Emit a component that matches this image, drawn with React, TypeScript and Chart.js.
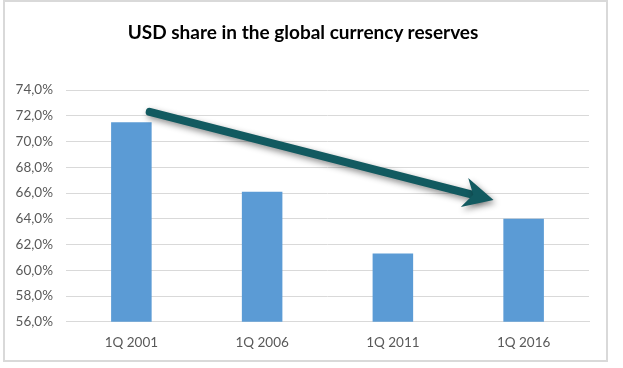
import React, { useEffect, useRef } from "react";
import { Chart, registerables } from "chart.js";

Chart.register(...registerables);

const TITLE = "USD share in the global currency reserves";
const categories = ["1Q 2001", "1Q 2006", "1Q 2011", "1Q 2016"];
const usdShare = [71.5, 66.1, 61.3, 64.0];
const yMin = 56;
const yMax = 74;
const yStep = 2;
// trend arrow in data space: [categoryIndex, value]
const arrowStart = [0.14, 72.3];
const arrowEnd = [2.77, 65.46];

const FONT = "Lato, 'Open Sans', sans-serif";

const arrowPlugin = {
  id: "trendArrow",
  afterDatasetsDraw(chart: any) {
    const { ctx, scales } = chart;
    const x0 = scales.x.getPixelForValue(arrowStart[0]);
    const y0 = scales.y.getPixelForValue(arrowStart[1]);
    const x1 = scales.x.getPixelForValue(arrowEnd[0]);
    const y1 = scales.y.getPixelForValue(arrowEnd[1]);
    const dx = x1 - x0, dy = y1 - y0;
    const len = Math.hypot(dx, dy);
    const ux = dx / len, uy = dy / len;
    const nx = -uy, ny = ux;
    const L = 30, W = 15;
    ctx.save();
    ctx.shadowColor = "rgba(0,0,0,0.45)";
    ctx.shadowBlur = 6;
    ctx.shadowOffsetX = 2;
    ctx.shadowOffsetY = 3;
    ctx.strokeStyle = "#125A60";
    ctx.fillStyle = "#125A60";
    ctx.lineWidth = 8;
    ctx.lineCap = "round";
    ctx.beginPath();
    ctx.moveTo(x0, y0);
    ctx.lineTo(x1 - ux * L * 0.6, y1 - uy * L * 0.6);
    ctx.stroke();
    ctx.beginPath();
    ctx.moveTo(x1, y1);
    ctx.lineTo(x1 - ux * L - nx * W, y1 - uy * L - ny * W);
    ctx.lineTo(x1 - ux * L * 0.7, y1 - uy * L * 0.7);
    ctx.lineTo(x1 - ux * L + nx * W, y1 - uy * L + ny * W);
    ctx.closePath();
    ctx.fill();
    ctx.restore();
  },
};

export default function App() {
  const ref = useRef<HTMLCanvasElement>(null);
  useEffect(() => {
    if (!ref.current) return;
    const chart = new Chart(ref.current, {
      type: "bar",
      data: {
        labels: categories,
        datasets: [
          {
            label: "USD share",
            data: usdShare,
            backgroundColor: "#5B9BD5",
            borderWidth: 0,
            barPercentage: 0.31,
            categoryPercentage: 1,
          },
        ],
      },
      options: {
        responsive: false,
        animation: false,
        layout: { padding: { left: 0, right: 34, top: 90, bottom: 4 } },
        plugins: {
          legend: { display: false },
          tooltip: { enabled: false },
          title: { display: false },
        },
        scales: {
          x: {
            grid: { display: false, drawTicks: false },
            border: { display: true, color: "#D9D9D9" },
            ticks: { color: "#595959", font: { family: FONT, size: 13.5 }, padding: 13 },
          },
          y: {
            min: yMin,
            max: yMax,
            afterFit: (s: any) => { s.width = 66; },
            grid: { color: "#D9D9D9", drawTicks: false },
            border: { display: false },
            ticks: {
              stepSize: yStep,
              color: "#595959",
              font: { family: FONT, size: 13.5 },
              padding: 13,
              callback: (v: any) => Number(v).toFixed(1).replace(".", ",") + "%",
            },
          },
        },
      },
      plugins: [arrowPlugin],
    });
    return () => chart.destroy();
  }, []);
  return (
    <div style={{ position: "fixed", left: 0, top: 0, width: 623, height: 368, background: "#fff" }}>
      <div
        style={{
          position: "absolute",
          left: 3,
          top: 0,
          width: 605,
          height: 362,
          border: "2px solid #D9D9D9",
          boxSizing: "border-box",
        }}
      />
      <canvas ref={ref} width={623} height={368} style={{ position: "absolute", left: 0, top: 0 }} />
      <div
        style={{
          position: "absolute",
          left: 303 - 250,
          width: 500,
          top: 20,
          height: 24,
          lineHeight: "24px",
          textAlign: "center",
          fontFamily: FONT,
          fontWeight: "bold",
          fontSize: 19,
          color: "#000",
          whiteSpace: "nowrap",
        }}
      >
        {TITLE}
      </div>
    </div>
  );
}
